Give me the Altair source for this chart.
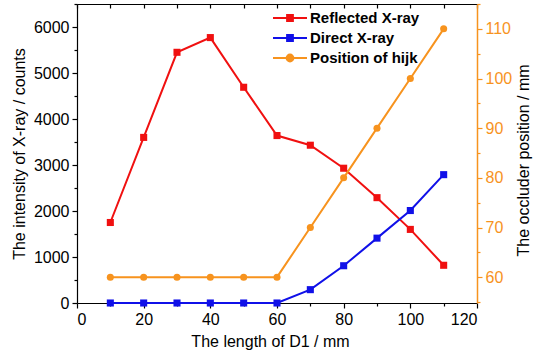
import altair as alt
import pandas as pd

# Length of D1 (mm)
d1 = [10, 20, 30, 40, 50, 60, 70, 80, 90, 100, 110]
# Intensities (counts)
reflected = [1750, 3600, 5450, 5770, 4690, 3640, 3430, 2930, 2290, 1600, 820]
direct = [0, 0, 0, 0, 0, 0, 290, 810, 1410, 2010, 2790]
# Occluder position (mm)
hijk = [60, 60, 60, 60, 60, 60, 70, 80, 90, 100, 110]

series_names = ["Reflected X-ray", "Direct X-ray", "Position of hijk"]
series_colors = ["#f01010", "#1010e8", "#f7931e"]

FONT = "Liberation Sans"

x_ticks = list(range(0, 121, 10))
left_ticks = list(range(0, 6501, 500))
right_ticks = list(range(55, 116, 5))

df_refl = pd.DataFrame({"x": d1, "y": reflected, "series": series_names[0]})
df_dir = pd.DataFrame({"x": d1, "y": direct, "series": series_names[1]})
df_hijk = pd.DataFrame({"x": d1, "y": hijk, "series": series_names[2]})

x_scale = alt.Scale(domain=[0, 120], nice=False)
left_scale = alt.Scale(domain=[0, 6500], nice=False)
right_scale = alt.Scale(domain=[54.8, 115], nice=False)

SQUARE = "M-1,0H1M-0.17,-0.17H0.17V0.17H-0.17Z"
CIRCLE = "M-1,0H1M-0.2,0A0.2,0.2 0 1 1 0.2,0A0.2,0.2 0 1 1 -0.2,0Z"


def legend_for(i, path):
    return alt.Legend(
        title=None,
        orient="none",
        legendX=195,
        legendY=-4 + 20 * i,
        padding=0,
        symbolType=path,
        symbolSize=1156,
        symbolStrokeWidth=2,
        symbolFillColor=series_colors[i],
        symbolStrokeColor=series_colors[i],
        symbolOpacity=1,
        labelFont=FONT,
        labelFontSize=15,
        labelFontWeight="bold",
        labelColor="black",
        labelOffset=2,
    )


bottom_axis = alt.Axis(
    orient="bottom",
    values=x_ticks,
    labelExpr="datum.value % 20 == 0 ? datum.label : ''",
    tickSize={"condition": {"test": "datum.value % 20 == 0", "value": 5}, "value": 3},
    labelPadding=3,
    labelFont=FONT,
    labelFontSize=16,
    labelColor="black",
    domainColor="black",
    tickColor="black",
    domainWidth=1.2,
    tickWidth=1.2,
    grid=False,
    title="The length of D1 / mm",
    titleFont=FONT,
    titleFontSize=16,
    titleFontWeight="normal",
    titleColor="black",
    titlePadding=6,
    titleX=193,
)

# inward ticks along the top edge
top_tick_axis = alt.Axis(
    orient="top",
    values=x_ticks,
    labels=False,
    domain=False,
    tickSize=4,
    offset=-4,
    tickColor="black",
    tickWidth=1.2,
    grid=False,
    title=None,
)

# plain top border line
top_line_axis = alt.Axis(
    orient="top",
    labels=False,
    ticks=False,
    domainColor="black",
    domainWidth=1.2,
    grid=False,
    title=None,
)

left_axis = alt.Axis(
    orient="left",
    values=left_ticks,
    labelExpr="datum.value % 1000 == 0 ? datum.label : ''",
    format="d",
    tickSize={"condition": {"test": "datum.value % 1000 == 0", "value": 5}, "value": 3},
    labelPadding=3,
    labelFont=FONT,
    labelFontSize=16,
    labelColor="black",
    domainColor="black",
    tickColor="black",
    domainWidth=1.2,
    tickWidth=1.2,
    grid=False,
    title="The intensity of X-ray / counts",
    titleFont=FONT,
    titleFontSize=16,
    titleFontWeight="normal",
    titleColor="black",
    titlePadding=6,
)

right_axis = alt.Axis(
    orient="right",
    values=right_ticks,
    labelExpr="datum.value % 10 == 0 ? datum.label : ''",
    tickSize={"condition": {"test": "datum.value % 10 == 0", "value": 5}, "value": 3},
    labelPadding=3,
    labelFont=FONT,
    labelFontSize=16,
    labelColor="#f7931e",
    domainColor="#f7931e",
    tickColor="#f7931e",
    domainWidth=1.5,
    tickWidth=1.2,
    grid=False,
    title="The occluder position / mm",
    titleFont=FONT,
    titleFontSize=16,
    titleFontWeight="normal",
    titleColor="black",
    titleAngle=270,
    titleBaseline="bottom",
    titleX=54,
    titleY=156,
)


def series_layer(df, i, shape, path, x_axis, y_scale, y_axis):
    color = alt.Color(
        "series:N",
        scale=alt.Scale(domain=[series_names[i]], range=[series_colors[i]]),
        legend=legend_for(i, path),
    )
    x = alt.X("x:Q", scale=x_scale, axis=x_axis)
    y = alt.Y("y:Q", scale=y_scale, axis=y_axis)
    line = alt.Chart(df).mark_line(strokeWidth=2).encode(x=x, y=y, color=color)
    pts = alt.Chart(df).mark_point(shape=shape, filled=True, size=50, opacity=1).encode(
        x=x, y=y, color=color
    )
    return alt.layer(line, pts)


refl_layer = series_layer(df_refl, 0, "square", SQUARE, bottom_axis, left_scale, left_axis)
dir_layer = series_layer(df_dir, 1, "square", SQUARE, top_tick_axis, left_scale, None)
hijk_layer = series_layer(df_hijk, 2, "circle", CIRCLE, top_line_axis, right_scale, right_axis)

chart = (
    alt.layer(refl_layer, dir_layer, hijk_layer)
    .resolve_scale(y="independent", color="independent")
    .resolve_axis(x="independent", y="independent")
    .resolve_legend(color="independent")
    .properties(
        width=400,
        height=299,
        autosize=alt.AutoSizeParams(type="none"),
        padding={"left": 77, "top": 4, "right": 56, "bottom": 49},
        background="white",
    )
    .configure_view(stroke=None)
)

chart.save("out.html", embed_options={"renderer": "svg", "actions": False})
